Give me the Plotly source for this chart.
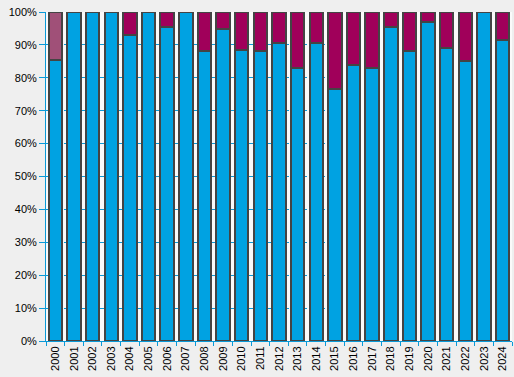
import plotly.graph_objects as go

years = [str(y) for y in range(2000, 2025)]
blue_pct = [85.5, 100, 100, 100, 93, 100, 95.5, 100, 88, 94.8, 88.5, 88, 90.5, 83,
            90.5, 76.5, 84, 83, 95.5, 88, 97, 89, 85, 100, 91.5]
red_pct = [round(100 - v, 1) for v in blue_pct]
red_colors = ["#a05078"] + ["#a0005a"] * (len(years) - 1)

fig = go.Figure()
fig.add_bar(x=years, y=blue_pct, marker=dict(color="#00a2e2", line=dict(color="#444444", width=2)), width=0.72)
fig.add_bar(x=years, y=red_pct, marker=dict(color=red_colors, line=dict(color="#444444", width=2)), width=0.72)

fig.update_layout(
    barmode="stack",
    width=514, height=377,
    margin=dict(l=46, r=2, t=12, b=36, autoexpand=False),
    paper_bgcolor="#efefef",
    plot_bgcolor="#fafafa",
    showlegend=False,
    font=dict(family="Arial, Liberation Sans", size=11, color="#000000"),
)
fig.update_yaxes(range=[0, 100], dtick=10, ticksuffix="%", showgrid=True,
                 gridcolor="#0a9ad8", griddash="dash", gridwidth=1,
                 ticks="outside", ticklen=6, tickcolor="#0a9ad8",
                 showline=True, linecolor="#0a9ad8", linewidth=1, zeroline=False)
fig.update_xaxes(type="category", tickangle=-90, tickson="boundaries",
                 ticks="outside", ticklen=4, tickcolor="#0a9ad8",
                 showline=True, linecolor="#0a9ad8", linewidth=1, showgrid=False,
                 range=[-0.5, 24.5])
fig.write_html("out.html", config={"displayModeBar": False},
               post_script="document.body.style.margin='0';")
